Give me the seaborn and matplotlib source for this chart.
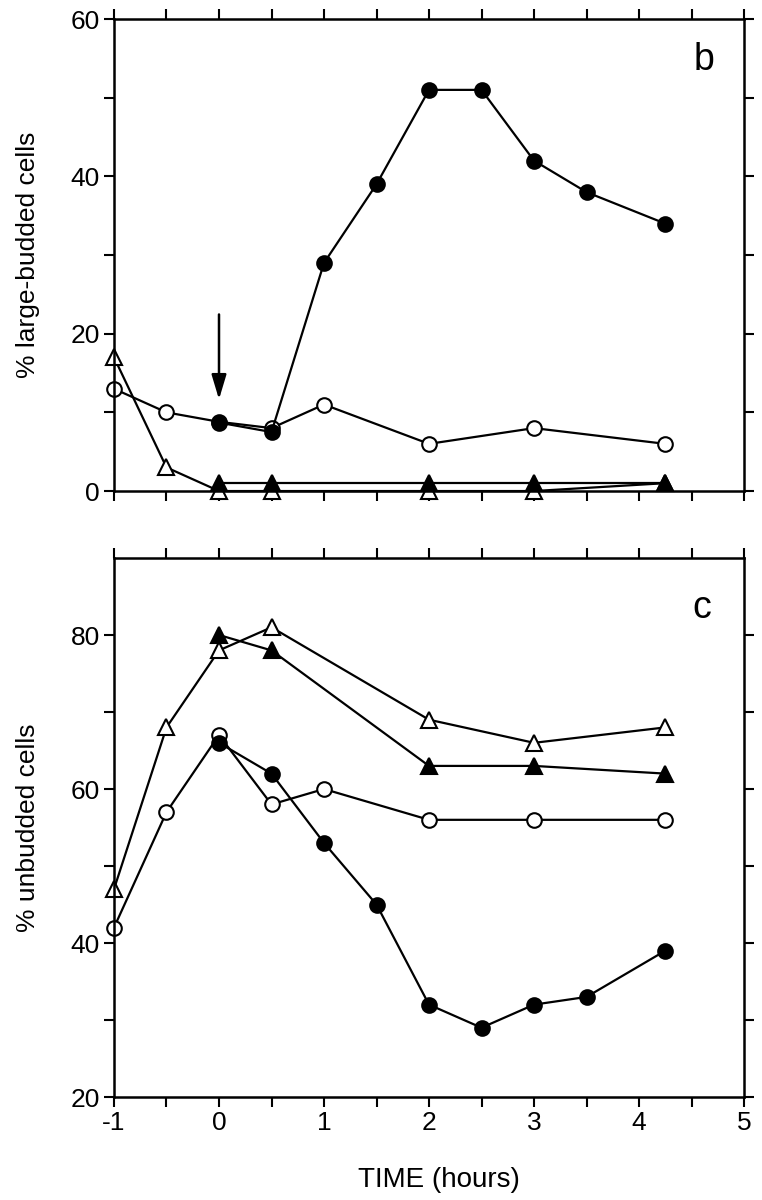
import numpy as np
import pandas as pd
import matplotlib
matplotlib.use("Agg")
import matplotlib.pyplot as plt
import seaborn as sns
from matplotlib.ticker import MultipleLocator

# panel b: % large-budded cells
b_open_tri_x = [-1, -0.5, 0, 0.5, 2, 3, 4.25]
b_open_tri_y = [17, 3, 0, 0, 0, 0, 1]
b_open_circ_x = [-1, -0.5, 0, 0.5, 1, 2, 3, 4.25]
b_open_circ_y = [13, 10, 8.8, 8, 11, 6, 8, 6]
b_fill_tri_x = [0, 0.5, 2, 3, 4.25]
b_fill_tri_y = [1, 1, 1, 1, 1]
b_fill_circ_x = [0, 0.5, 1, 1.5, 2, 2.5, 3, 3.5, 4.25]
b_fill_circ_y = [8.7, 7.5, 29, 39, 51, 51, 42, 38, 34]

# panel c: % unbudded cells
c_open_tri_x = [-1, -0.5, 0, 0.5, 2, 3, 4.25]
c_open_tri_y = [47, 68, 78, 81, 69, 66, 68]
c_open_circ_x = [-1, -0.5, 0, 0.5, 1, 2, 3, 4.25]
c_open_circ_y = [42, 57, 67, 58, 60, 56, 56, 56]
c_fill_tri_x = [0, 0.5, 2, 3, 4.25]
c_fill_tri_y = [80, 78, 63, 63, 62]
c_fill_circ_x = [0, 0.5, 1, 1.5, 2, 2.5, 3, 3.5, 4.25]
c_fill_circ_y = [66, 62, 53, 45, 32, 29, 32, 33, 39]

sns.set_style("ticks", {"axes.edgecolor": "black", "text.color": "black",
                        "axes.labelcolor": "black", "xtick.color": "black",
                        "ytick.color": "black"})
plt.rcParams['font.family'] = ['Liberation Sans', 'DejaVu Sans']

fig = plt.figure(figsize=(7.62, 12), dpi=100)
ax_b = fig.add_axes([0.1496, 0.5908, 0.8268, 0.3933])
ax_c = fig.add_axes([0.1496, 0.0858, 0.8268, 0.4492])


def draw_series(ax, x, y, marker, filled):
    sns.lineplot(x=x, y=y, ax=ax, color="black", lw=1.6, marker=marker,
                 markersize=10.5 if marker == "o" else 11,
                 markerfacecolor="black" if filled else "white",
                 markeredgecolor="black", markeredgewidth=1.5,
                 clip_on=False, estimator=None, sort=False)


def style_axis(ax, ylim, label):
    ax.set_xlim(-1, 5)
    ax.set_ylim(*ylim)
    ax.xaxis.set_major_locator(MultipleLocator(1))
    ax.xaxis.set_minor_locator(MultipleLocator(0.5))
    ax.yaxis.set_major_locator(MultipleLocator(20))
    ax.yaxis.set_minor_locator(MultipleLocator(10))
    ax.tick_params(which="both", direction="out", top=True, right=True,
                   width=1.5, length=7, labelsize=19, pad=3)
    for s in ax.spines.values():
        s.set_linewidth(1.8)
        s.set_visible(True)
    ax.set_ylabel(label, fontsize=19)
    ax.yaxis.set_label_coords(-0.118, 0.5)


draw_series(ax_b, b_open_tri_x, b_open_tri_y, "^", False)
draw_series(ax_b, b_open_circ_x, b_open_circ_y, "o", False)
draw_series(ax_b, b_fill_tri_x, b_fill_tri_y, "^", True)
draw_series(ax_b, b_fill_circ_x, b_fill_circ_y, "o", True)
style_axis(ax_b, (0, 60), "% large-budded cells")
ax_b.set_yticks([10, 30, 50], minor=True)
ax_b.tick_params(axis="x", labelbottom=False)
ax_b.annotate("", xy=(0, 11.3), xytext=(0, 22.8),
              arrowprops=dict(arrowstyle="-|>,head_length=1.5,head_width=0.45",
                              color="black", lw=1.8))
ax_b.text(4.62, 54.8, "b", fontsize=27, ha="center", va="center")

draw_series(ax_c, c_open_tri_x, c_open_tri_y, "^", False)
draw_series(ax_c, c_open_circ_x, c_open_circ_y, "o", False)
draw_series(ax_c, c_fill_tri_x, c_fill_tri_y, "^", True)
draw_series(ax_c, c_fill_circ_x, c_fill_circ_y, "o", True)
style_axis(ax_c, (20, 90), "% unbudded cells")
ax_c.set_yticks([20, 40, 60, 80])
ax_c.set_yticks([30, 50, 70], minor=True)
ax_c.text(4.6, 83.5, "c", fontsize=27, ha="center", va="center")
ax_c.set_xticks([-1, 0, 1, 2, 3, 4, 5])
ax_c.set_xticklabels(["-1", "0", "1", "2", "3", "4", "5"])
ax_c.set_xlabel("TIME (hours)", fontsize=20, va="center")
ax_c.xaxis.set_label_coords(0.516, -0.154)

fig.savefig("out.png", dpi=100)
